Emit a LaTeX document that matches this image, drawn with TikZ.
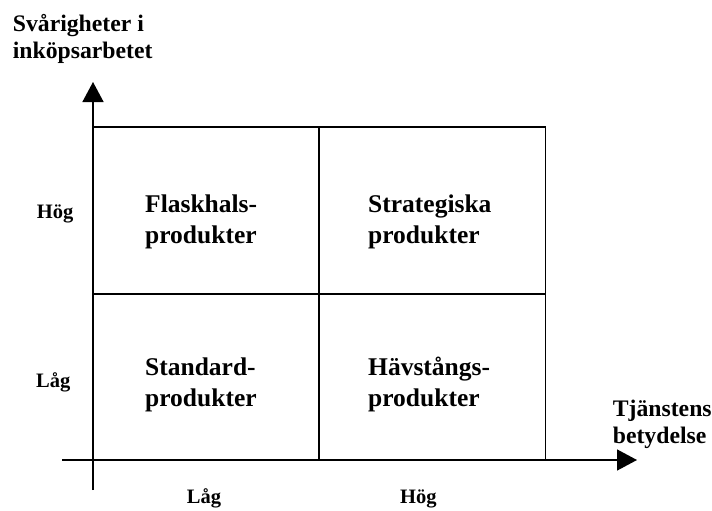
\documentclass[tikz,border=0pt]{standalone}
\usepackage{fontspec}
\setmainfont{Liberation Serif}
\usetikzlibrary{arrows.meta}
\tikzstyle{cell} = [rectangle, draw, line width=1.5pt, minimum width=226pt, minimum height=167pt, inner sep=0pt]
\tikzstyle{quad} = [anchor=base west, align=left, inner sep=0pt, font=\bfseries\fontsize{25.5}{31}\selectfont]
\tikzstyle{axislabel} = [anchor=base west, align=left, inner sep=0pt, font=\bfseries\fontsize{23.7}{27}\selectfont]
\tikzstyle{level} = [anchor=base west, inner sep=0pt, font=\bfseries\fontsize{20.5}{24}\selectfont]
\tikzstyle{axis} = [line width=1.5pt, -{Triangle[length=20pt,width=21pt]}]

\begin{document}
\begin{tikzpicture}[x=1pt,y=-1pt]
            \useasboundingbox (0,0) rectangle (712,511);

            \node [cell] at (206,210.5) (flask) {};
            \node [cell] at (432.5,210.5) (strat) {};
            \node [cell] at (206,377) (stand) {};
            \node [cell] at (432.5,377) (hav) {};

            \node [quad] at (145,243) (flasktext) {Flaskhals-\\produkter};
            \node [quad] at (368,243) (strattext) {Strategiska\\produkter};
            \node [quad] at (145,406) (standtext) {Standard-\\produkter};
            \node [quad] at (368,406) (havtext) {Hävstångs-\\produkter};

            \coordinate (yfoot) at (93,490);
            \coordinate (ytip) at (93,82);
            \coordinate (xfoot) at (62,460);
            \coordinate (xtip) at (637,460);
            \draw [axis] (yfoot) -- (ytip);
            \draw [axis] (xfoot) -- (xtip);

            \node [axislabel] at (12.7,58.5) (ytitle) {Svårigheter i\\inköpsarbetet};
            \node [axislabel] at (612.7,443) (xtitle) {Tjänstens\\betydelse};

            \node [level] at (36.7,218) (yhigh) {Hög};
            \node [level] at (36,387) (ylow) {Låg};
            \node [level] at (186.7,503) (xlow) {Låg};
            \node [level] at (400,503) (xhigh) {Hög};
            \end{tikzpicture}
\end{document}
